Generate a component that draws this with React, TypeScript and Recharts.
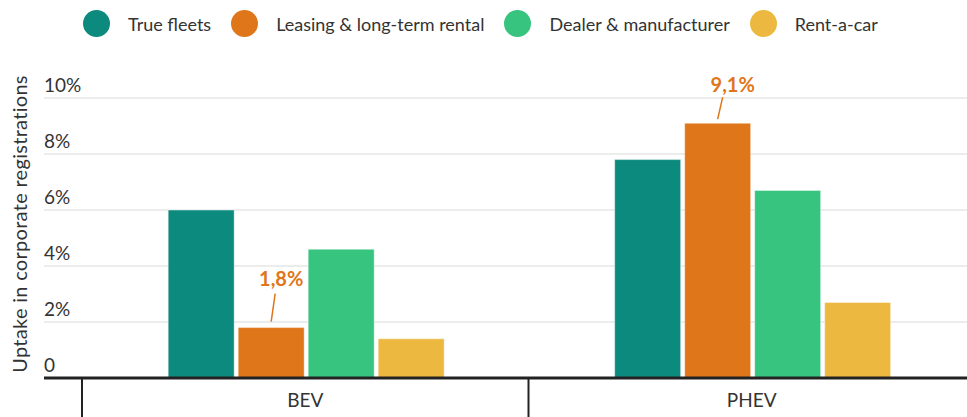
import React from "react";
import {
  BarChart,
  Bar,
  XAxis,
  YAxis,
  CartesianGrid,
  Legend,
  LabelList,
} from "recharts";

const categories = ["BEV", "PHEV"];
const trueFleets = [6.0, 7.8];
const leasing = [1.8, 9.1];
const dealer = [4.6, 6.7];
const rentACar = [1.4, 2.7];
const yTicks = [0, 2, 4, 6, 8, 10];

const series = [
  { key: "trueFleets", name: "True fleets", color: "#0b8a7d" },
  { key: "leasing", name: "Leasing & long-term rental", color: "#df761a" },
  { key: "dealer", name: "Dealer & manufacturer", color: "#36c47f" },
  { key: "rentACar", name: "Rent-a-car", color: "#ecb83f" },
];

const data = categories.map((c, i) => ({
  category: c,
  trueFleets: trueFleets[i],
  leasing: leasing[i],
  dealer: dealer[i],
  rentACar: rentACar[i],
}));

const FONT = "Lato, 'Noto Sans', sans-serif";
const TEXT = "#333";
const AXIS_W = 44;

// hand-placed callouts, same as the original
const callout: Record<string, { lx: number; ly0: number; ly1: number; tx: number; ty: number }> = {
  BEV: { lx: 4, ly0: -6, ly1: -34, tx: 10, ty: -42 },
  PHEV: { lx: 5, ly0: -4, ly1: -26, tx: 15, ty: -31 },
};

const fmt = (v: number) => v.toFixed(1).replace(".", ",") + "%";

function LegendBar() {
  return (
    <div
      style={{
        display: "flex",
        alignItems: "center",
        paddingLeft: 83,
        paddingTop: 10,
        fontFamily: FONT,
        fontSize: 18,
        color: TEXT,
      }}
    >
      {series.map((s) => (
        <div key={s.key} style={{ display: "flex", alignItems: "center", marginRight: 20 }}>
          <span
            style={{
              width: 27,
              height: 27,
              borderRadius: "50%",
              background: s.color,
              marginRight: 18,
              display: "inline-block",
            }}
          />
          <span>{s.name}</span>
        </div>
      ))}
    </div>
  );
}

function YTick(props: any) {
  const { y, payload } = props;
  return (
    <text x={AXIS_W} y={y - 6} textAnchor="start" fontFamily={FONT} fontSize={19} fill={TEXT}>
      {payload.value === 0 ? "0" : `${payload.value}%`}
    </text>
  );
}

function XTick(props: any) {
  const { x, y, payload } = props;
  const half = payload.offset ?? 0;
  return (
    <g>
      <line x1={x - half} x2={x - half} y1={y} y2={y + 40} stroke="#222" strokeWidth={2} />
      <text x={x} y={y + 29} textAnchor="middle" fontFamily={FONT} fontSize={19} fill={TEXT}>
        {payload.value}
      </text>
    </g>
  );
}

function Callout(props: any) {
  const { x, y, width, value, index } = props;
  const c = callout[categories[index]];
  if (!c) return null;
  const cx = x + width / 2;
  return (
    <g>
      <line x1={cx} y1={y + c.ly0} x2={cx + c.lx} y2={y + c.ly1} stroke="#df761a" strokeWidth={1.5} />
      <text
        x={cx + c.tx}
        y={y + c.ty}
        textAnchor="middle"
        fontFamily={FONT}
        fontSize={20}
        fontWeight={700}
        fill="#df761a"
      >
        {fmt(value)}
      </text>
    </g>
  );
}

function AxisTitle(props: any) {
  const vb = props.viewBox;
  const cx = vb.x + 27;
  const cy = 224;
  return (
    <text
      x={cx}
      y={cy}
      transform={`rotate(-90, ${cx}, ${cy})`}
      textAnchor="middle"
      fontFamily={FONT}
      fontSize={20}
      letterSpacing={0.3}
      fill={TEXT}
    >
      Uptake in corporate registrations
    </text>
  );
}

export default function App() {
  return (
    <div
      style={{
        position: "absolute",
        left: 0,
        top: 0,
        width: 967,
        height: 417,
        overflow: "hidden",
        background: "#fff",
      }}
    >
      <BarChart
        width={975}
        height={417}
        data={data}
        margin={{ top: 0, right: 0, bottom: 0, left: 0 }}
        barCategoryGap="19.3%"
        barGap={4}
      >
        <Legend verticalAlign="top" align="left" height={98} content={<LegendBar />} />
        <CartesianGrid vertical={false} stroke="#e6e6e6" strokeWidth={1.5} />
        <XAxis
          dataKey="category"
          padding={{ left: 38, right: 0 }}
          height={39}
          tickSize={0}
          tickMargin={0}
          axisLine={{ stroke: "#222", strokeWidth: 3 }}
          tick={<XTick />}
        />
        <YAxis
          width={AXIS_W}
          domain={[0, 10]}
          ticks={yTicks}
          axisLine={false}
          tickLine={false}
          tick={<YTick />}
          label={<AxisTitle />}
        />
        {series.map((s) => (
          <Bar
            key={s.key}
            dataKey={s.key}
            name={s.name}
            fill={s.color}
            stroke="#ffffff"
            strokeOpacity={0.45}
            strokeWidth={1}
            isAnimationActive={false}
          >
            {s.key === "leasing" && <LabelList dataKey="leasing" content={<Callout />} />}
          </Bar>
        ))}
      </BarChart>
    </div>
  );
}
